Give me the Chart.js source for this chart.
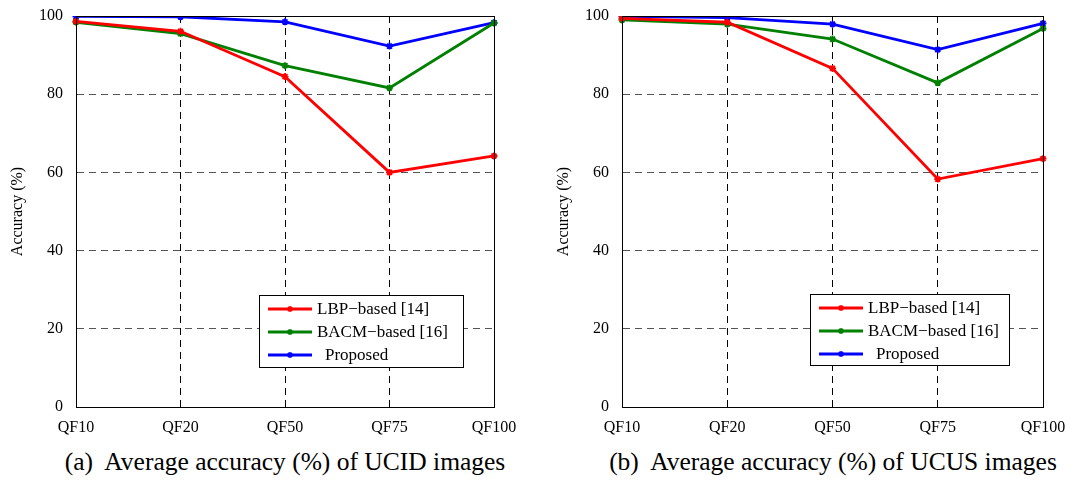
<!DOCTYPE html>
<html>
<head>
<meta charset="utf-8">
<script src="https://cdn.jsdelivr.net/npm/chart.js@4/dist/chart.umd.min.js"></script>
<style>
  body { margin: 0; background: #fff; width: 1070px; height: 481px; overflow: hidden; position: relative; }
  .wrap { position: absolute; top: 0; height: 440px; }
  .cap { position: absolute; top: 447px; font-family: "Liberation Serif", serif; font-size: 25.5px; color: #000; white-space: pre; transform: translateX(-50%); }
</style>
</head>
<body>
<div class="wrap" style="left:0;width:546px"><canvas id="ch_ucid"></canvas></div>
<div class="wrap" style="left:546px;width:524px"><canvas id="ch_ucus"></canvas></div>
<div class="cap" style="left:285px">(a)  Average accuracy (%) of UCID images</div>
<div class="cap" style="left:833px">(b)  Average accuracy (%) of UCUS images</div>
<script>
const categories = ['QF10', 'QF20', 'QF50', 'QF75', 'QF100'];
const yTicks = [0, 20, 40, 60, 80, 100];
const seriesNames = ['LBP\u2212based [14]', 'BACM\u2212based [16]', 'Proposed'];

// (a) UCID
const ucidLbp      = [98.6, 96.1, 84.5, 60.0, 64.2];
const ucidBacm     = [98.4, 95.5, 87.3, 81.6, 98.2];
const ucidProposed = [99.9, 99.8, 98.5, 92.3, 98.3];
// (b) UCUS
const ucusLbp      = [99.4, 98.4, 86.6, 58.3, 63.5];
const ucusBacm     = [99.0, 97.9, 94.1, 82.9, 96.8];
const ucusProposed = [99.9, 99.6, 97.9, 91.4, 98.1];

const COLORS = ['#ff0000', '#008000', '#0000ff'];
const FONT = '"Liberation Serif", "Times New Roman", serif';

/* frame round the plot + legend box inside it */
const framePlugin = {
  id: 'frame',
  afterDraw(chart, args, opts) {
    const { ctx, chartArea: a } = chart;
    ctx.save();
    ctx.strokeStyle = '#000';
    ctx.lineWidth = 1;
    ctx.setLineDash([]);
    ctx.strokeRect(a.left + 0.5, a.top + 0.5, a.right - a.left, a.bottom - a.top);

    // legend
    const bx = a.left + opts.x, by = a.top + opts.y;
    ctx.fillStyle = '#fff';
    ctx.fillRect(bx, by, opts.w, opts.h);
    ctx.strokeRect(bx + 0.5, by + 0.5, opts.w, opts.h);
    ctx.font = '17px ' + FONT;
    ctx.textBaseline = 'middle';
    chart.data.datasets.forEach((ds, i) => {
      const ry = by + 14 + i * 23;
      ctx.strokeStyle = ds.borderColor;
      ctx.fillStyle = ds.borderColor;
      ctx.lineWidth = 2.8;
      ctx.beginPath();
      ctx.moveTo(bx + 9, ry); ctx.lineTo(bx + 53, ry);
      ctx.stroke();
      ctx.lineWidth = 1.5;
      Chart.helpers.drawPoint(ctx, { pointStyle: 'star', radius: 3, borderWidth: 1.5 }, bx + 31, ry);
      ctx.fillStyle = '#000';
      ctx.fillText(ds.label, bx + (i === 2 ? 66 : 58), ry + 1);
    });
    ctx.restore();
  }
};

function makeChart(id, data, padRight, legend) {
  const canvas = document.getElementById(id);
  const datasets = data.map((vals, i) => ({
    label: seriesNames[i],
    data: vals,
    borderColor: COLORS[i],
    backgroundColor: COLORS[i],
    borderWidth: 2.8,
    pointStyle: 'star',
    pointRadius: 3.5,
    pointBorderWidth: 1.8,
    tension: 0
  }));
  return new Chart(canvas.getContext('2d'), {
    type: 'line',
    data: { labels: categories, datasets },
    options: {
      responsive: true,
      maintainAspectRatio: false,
      animation: false,
      layout: { padding: { top: 16, right: padRight, left: 0, bottom: 0 } },
      plugins: { legend: { display: false }, tooltip: { enabled: false }, frame: legend },
      scales: {
        x: {
          offset: false,
          afterFit: s => { s.height = 33; s.paddingLeft = 0; s.paddingRight = 0; },
          grid: { color: '#000', lineWidth: 1, drawTicks: false },
          border: { display: true, color: '#000', dash: [7, 5] },
          ticks: { padding: 11, color: '#000', font: { family: FONT, size: 16 }, maxRotation: 0 }
        },
        y: {
          min: 0, max: 100,
          afterFit: s => { s.width = 76; s.paddingTop = 0; s.paddingBottom = 0; },
          afterBuildTicks: s => { s.ticks = yTicks.map(v => ({ value: v })); },
          grid: { color: '#555', lineWidth: 1, drawTicks: false },
          border: { display: true, color: '#000', dash: [7, 5] },
          ticks: { padding: 13, color: '#000', font: { family: FONT, size: 16 } },
          title: { display: true, text: 'Accuracy (%)', color: '#000', font: { family: FONT, size: 16 }, padding: { top: 8, bottom: 0 } }
        }
      }
    },
    plugins: [framePlugin]
  });
}

makeChart('ch_ucid', [ucidLbp, ucidBacm, ucidProposed], 52, { x: 183, y: 279, w: 204, h: 72 });
makeChart('ch_ucus', [ucusLbp, ucusBacm, ucusProposed], 27, { x: 188, y: 278, w: 199, h: 71 });
</script>
</body>
</html>
